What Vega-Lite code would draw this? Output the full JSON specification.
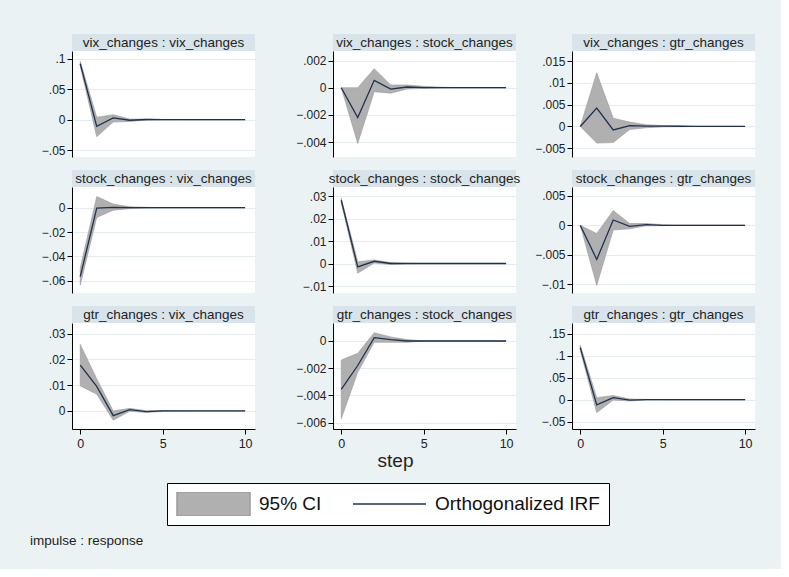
{
  "$schema": "https://vega.github.io/schema/vega-lite/v6.json",
  "background": "#eaf2f3",
  "padding": {"left": 8, "top": 34, "right": 26, "bottom": 22},
  "data": {"values": [
    {"p":"p1","step":0,"irf":0.092,"lo":0.088,"hi":0.096},
    {"p":"p1","step":1,"irf":-0.011,"lo":-0.028,"hi":0.004},
    {"p":"p1","step":2,"irf":0.003,"lo":-0.004,"hi":0.008},
    {"p":"p1","step":3,"irf":-0.001,"lo":-0.003,"hi":0.001},
    {"p":"p1","step":4,"irf":0.0002,"lo":-0.0008,"hi":0.0008},
    {"p":"p1","step":5,"irf":0,"lo":-0.0003,"hi":0.0003},
    {"p":"p1","step":6,"irf":0,"lo":-0.0001,"hi":0.0001},
    {"p":"p1","step":7,"irf":0,"lo":0,"hi":0},
    {"p":"p1","step":8,"irf":0,"lo":0,"hi":0},
    {"p":"p1","step":9,"irf":0,"lo":0,"hi":0},
    {"p":"p1","step":10,"irf":0,"lo":0,"hi":0},
    {"p":"p2","step":0,"irf":0,"lo":0,"hi":0},
    {"p":"p2","step":1,"irf":-0.0022,"lo":-0.0041,"hi":0.0},
    {"p":"p2","step":2,"irf":0.00054,"lo":-0.0003,"hi":0.0014},
    {"p":"p2","step":3,"irf":-0.0001,"lo":-0.0004,"hi":0.0002},
    {"p":"p2","step":4,"irf":0.00005,"lo":-0.0001,"hi":0.0002},
    {"p":"p2","step":5,"irf":0,"lo":-0.00005,"hi":0.0001},
    {"p":"p2","step":6,"irf":0,"lo":-0.00002,"hi":0.00004},
    {"p":"p2","step":7,"irf":0,"lo":0,"hi":0},
    {"p":"p2","step":8,"irf":0,"lo":0,"hi":0},
    {"p":"p2","step":9,"irf":0,"lo":0,"hi":0},
    {"p":"p2","step":10,"irf":0,"lo":0,"hi":0},
    {"p":"p3","step":0,"irf":0,"lo":0,"hi":0},
    {"p":"p3","step":1,"irf":0.0042,"lo":-0.0038,"hi":0.0123},
    {"p":"p3","step":2,"irf":-0.0008,"lo":-0.0037,"hi":0.0019},
    {"p":"p3","step":3,"irf":0.0002,"lo":-0.0007,"hi":0.001},
    {"p":"p3","step":4,"irf":0.0001,"lo":-0.0003,"hi":0.0004},
    {"p":"p3","step":5,"irf":0.0001,"lo":-0.0001,"hi":0.0002},
    {"p":"p3","step":6,"irf":0.00005,"lo":-0.00005,"hi":0.0001},
    {"p":"p3","step":7,"irf":0,"lo":0,"hi":0},
    {"p":"p3","step":8,"irf":0,"lo":0,"hi":0},
    {"p":"p3","step":9,"irf":0,"lo":0,"hi":0},
    {"p":"p3","step":10,"irf":0,"lo":0,"hi":0},
    {"p":"p4","step":0,"irf":-0.0565,"lo":-0.0635,"hi":-0.0495},
    {"p":"p4","step":1,"irf":-0.0003,"lo":-0.008,"hi":0.0092},
    {"p":"p4","step":2,"irf":0.0003,"lo":-0.002,"hi":0.003},
    {"p":"p4","step":3,"irf":0,"lo":-0.0008,"hi":0.0008},
    {"p":"p4","step":4,"irf":0,"lo":-0.0003,"hi":0.0003},
    {"p":"p4","step":5,"irf":0,"lo":-0.0001,"hi":0.0001},
    {"p":"p4","step":6,"irf":0,"lo":-0.00005,"hi":0.00005},
    {"p":"p4","step":7,"irf":0,"lo":0,"hi":0},
    {"p":"p4","step":8,"irf":0,"lo":0,"hi":0},
    {"p":"p4","step":9,"irf":0,"lo":0,"hi":0},
    {"p":"p4","step":10,"irf":0,"lo":0,"hi":0},
    {"p":"p5","step":0,"irf":0.0281,"lo":0.0272,"hi":0.0291},
    {"p":"p5","step":1,"irf":-0.0015,"lo":-0.0043,"hi":0.0008},
    {"p":"p5","step":2,"irf":0.001,"lo":0.0002,"hi":0.0016},
    {"p":"p5","step":3,"irf":0,"lo":-0.0004,"hi":0.0004},
    {"p":"p5","step":4,"irf":0,"lo":-0.0001,"hi":0.0001},
    {"p":"p5","step":5,"irf":0,"lo":0,"hi":0},
    {"p":"p5","step":6,"irf":0,"lo":0,"hi":0},
    {"p":"p5","step":7,"irf":0,"lo":0,"hi":0},
    {"p":"p5","step":8,"irf":0,"lo":0,"hi":0},
    {"p":"p5","step":9,"irf":0,"lo":0,"hi":0},
    {"p":"p5","step":10,"irf":0,"lo":0,"hi":0},
    {"p":"p6","step":0,"irf":0,"lo":0,"hi":0},
    {"p":"p6","step":1,"irf":-0.0058,"lo":-0.0102,"hi":-0.0014},
    {"p":"p6","step":2,"irf":0.0009,"lo":-0.0008,"hi":0.0025},
    {"p":"p6","step":3,"irf":-0.0002,"lo":-0.0006,"hi":0.0003},
    {"p":"p6","step":4,"irf":0.0001,"lo":-0.0001,"hi":0.0003},
    {"p":"p6","step":5,"irf":0,"lo":-0.00005,"hi":0.0001},
    {"p":"p6","step":6,"irf":0,"lo":0,"hi":0},
    {"p":"p6","step":7,"irf":0,"lo":0,"hi":0},
    {"p":"p6","step":8,"irf":0,"lo":0,"hi":0},
    {"p":"p6","step":9,"irf":0,"lo":0,"hi":0},
    {"p":"p6","step":10,"irf":0,"lo":0,"hi":0},
    {"p":"p7","step":0,"irf":0.0178,"lo":0.0097,"hi":0.0258},
    {"p":"p7","step":1,"irf":0.0095,"lo":0.0065,"hi":0.0125},
    {"p":"p7","step":2,"irf":-0.0018,"lo":-0.0036,"hi":0.0},
    {"p":"p7","step":3,"irf":0.0005,"lo":-0.0001,"hi":0.001},
    {"p":"p7","step":4,"irf":-0.0003,"lo":-0.0006,"hi":0.0001},
    {"p":"p7","step":5,"irf":0,"lo":-0.0002,"hi":0.0002},
    {"p":"p7","step":6,"irf":0,"lo":-0.0001,"hi":0.0001},
    {"p":"p7","step":7,"irf":0,"lo":0,"hi":0},
    {"p":"p7","step":8,"irf":0,"lo":0,"hi":0},
    {"p":"p7","step":9,"irf":0,"lo":0,"hi":0},
    {"p":"p7","step":10,"irf":0,"lo":0,"hi":0},
    {"p":"p8","step":0,"irf":-0.00355,"lo":-0.0057,"hi":-0.0014},
    {"p":"p8","step":1,"irf":-0.0018,"lo":-0.0023,"hi":-0.0009},
    {"p":"p8","step":2,"irf":0.00024,"lo":-0.0001,"hi":0.0006},
    {"p":"p8","step":3,"irf":0.0001,"lo":-0.0001,"hi":0.0003},
    {"p":"p8","step":4,"irf":0,"lo":-0.0001,"hi":0.0001},
    {"p":"p8","step":5,"irf":0,"lo":0,"hi":0},
    {"p":"p8","step":6,"irf":0,"lo":0,"hi":0},
    {"p":"p8","step":7,"irf":0,"lo":0,"hi":0},
    {"p":"p8","step":8,"irf":0,"lo":0,"hi":0},
    {"p":"p8","step":9,"irf":0,"lo":0,"hi":0},
    {"p":"p8","step":10,"irf":0,"lo":0,"hi":0},
    {"p":"p9","step":0,"irf":0.118,"lo":0.112,"hi":0.124},
    {"p":"p9","step":1,"irf":-0.012,"lo":-0.0295,"hi":0.0045},
    {"p":"p9","step":2,"irf":0.0045,"lo":-0.001,"hi":0.0095},
    {"p":"p9","step":3,"irf":-0.001,"lo":-0.003,"hi":0.0015},
    {"p":"p9","step":4,"irf":0,"lo":-0.0005,"hi":0.0005},
    {"p":"p9","step":5,"irf":0,"lo":0,"hi":0},
    {"p":"p9","step":6,"irf":0,"lo":0,"hi":0},
    {"p":"p9","step":7,"irf":0,"lo":0,"hi":0},
    {"p":"p9","step":8,"irf":0,"lo":0,"hi":0},
    {"p":"p9","step":9,"irf":0,"lo":0,"hi":0},
    {"p":"p9","step":10,"irf":0,"lo":0,"hi":0}
  ]},
  "title": {"text": "impulse : response", "orient": "bottom", "anchor": "start", "fontSize": 13.5, "fontWeight": "normal", "color": "#222", "font": "Liberation Sans", "dx": 22, "offset": 8},
  "columns": 3,
  "align": "each",
  "spacing": {"row": 13, "column": 10},
  "concat": [
    {"concat": [
      {"data": {"values": [{"t": "vix_changes : vix_changes"}]}, "width": 183, "height": 17, "view": {"fill": "#d8e4ea", "stroke": null}, "mark": {"type": "text", "fontSize": 13.5, "color": "#222"}, "encoding": {"text": {"field": "t"}}},
      {"width": 183, "height": 106, "view": {"fill": "white", "stroke": null},
       "transform": [{"filter": "datum.p == 'p1'"}],
       "encoding": {"x": {"field": "step", "type": "quantitative", "scale": {"domain": [-0.5, 10.6], "nice": false, "zero": false}, "axis": null}},
       "layer": [
        {"mark": {"type": "area", "stroke": "#9b9b9b", "strokeWidth": 0.6},
         "encoding": {"y": {"field": "lo", "type": "quantitative", "scale": {"domain": [-0.0615, 0.113], "nice": false, "zero": false}, "axis": {"title": null, "values": [-0.05, 0, 0.05, 0.1], "minExtent": 64, "maxExtent": 64}},
          "y2": {"field": "hi"},
          "color": {"datum": "95% CI", "type": "nominal", "scale": {"domain": ["95% CI", "Orthogonalized IRF"], "range": ["#b0b0b0", "#1f3152"]},
           "legend": {"title": null, "orient": "none", "legendX": 95, "legendY": 449, "direction": "horizontal", "strokeColor": "#000", "fillColor": "white", "padding": 9, "labelFontSize": 19, "labelLimit": 400, "labelColor": "#111", "labelFont": "Liberation Sans", "labelOffset": 8, "columnPadding": 30, "symbolSize": 5329, "clipHeight": 24, "symbolStrokeWidth": 1.5,
            "symbolType": {"expr": "datum.value === '95% CI' ? 'M-1,-0.33L1,-0.33L1,0.33L-1,0.33Z' : 'M-1,0L1,0'"},
            "symbolStrokeColor": {"expr": "datum.value === '95% CI' ? '#9b9b9b' : '#1f3152'"}}}}},
        {"mark": {"type": "line", "strokeWidth": 1.3, "color": "#1f3152"},
         "encoding": {"y": {"field": "irf", "type": "quantitative", "scale": {"domain": [-0.0615, 0.113], "nice": false, "zero": false}}}}
       ]}
    ], "columns": 1, "spacing": 0, "align": "each"},
    {"concat": [
      {"data": {"values": [{"t": "vix_changes : stock_changes"}]}, "width": 183, "height": 17, "view": {"fill": "#d8e4ea", "stroke": null}, "mark": {"type": "text", "fontSize": 13.5, "color": "#222"}, "encoding": {"text": {"field": "t"}}},
      {"width": 183, "height": 106, "view": {"fill": "white", "stroke": null},
       "transform": [{"filter": "datum.p == 'p2'"}],
       "encoding": {"x": {"field": "step", "type": "quantitative", "scale": {"domain": [-0.5, 10.6], "nice": false, "zero": false}, "axis": null}},
       "layer": [
        {"mark": {"type": "area", "color": "#b0b0b0", "stroke": "#9b9b9b", "strokeWidth": 0.6},
         "encoding": {"y": {"field": "lo", "type": "quantitative", "scale": {"domain": [-0.0051, 0.0027], "nice": false, "zero": false}, "axis": {"title": null, "values": [-0.004, -0.002, 0, 0.002], "minExtent": 68, "maxExtent": 68}}, "y2": {"field": "hi"}}},
        {"mark": {"type": "line", "strokeWidth": 1.3, "color": "#1f3152"},
         "encoding": {"y": {"field": "irf", "type": "quantitative", "scale": {"domain": [-0.0051, 0.0027], "nice": false, "zero": false}}}}
       ]}
    ], "columns": 1, "spacing": 0, "align": "each"},
    {"concat": [
      {"data": {"values": [{"t": "vix_changes : gtr_changes"}]}, "width": 183, "height": 17, "view": {"fill": "#d8e4ea", "stroke": null}, "mark": {"type": "text", "fontSize": 13.5, "color": "#222"}, "encoding": {"text": {"field": "t"}}},
      {"width": 183, "height": 106, "view": {"fill": "white", "stroke": null},
       "transform": [{"filter": "datum.p == 'p3'"}],
       "encoding": {"x": {"field": "step", "type": "quantitative", "scale": {"domain": [-0.5, 10.6], "nice": false, "zero": false}, "axis": null}},
       "layer": [
        {"mark": {"type": "area", "color": "#b0b0b0", "stroke": "#9b9b9b", "strokeWidth": 0.6},
         "encoding": {"y": {"field": "lo", "type": "quantitative", "scale": {"domain": [-0.007, 0.0173], "nice": false, "zero": false}, "axis": {"title": null, "values": [-0.005, 0, 0.005, 0.01, 0.015], "minExtent": 41, "maxExtent": 41}}, "y2": {"field": "hi"}}},
        {"mark": {"type": "line", "strokeWidth": 1.3, "color": "#1f3152"},
         "encoding": {"y": {"field": "irf", "type": "quantitative", "scale": {"domain": [-0.007, 0.0173], "nice": false, "zero": false}}}}
       ]}
    ], "columns": 1, "spacing": 0, "align": "each"},
    {"concat": [
      {"data": {"values": [{"t": "stock_changes : vix_changes"}]}, "width": 183, "height": 17, "view": {"fill": "#d8e4ea", "stroke": null}, "mark": {"type": "text", "fontSize": 13.5, "color": "#222"}, "encoding": {"text": {"field": "t"}}},
      {"width": 183, "height": 106, "view": {"fill": "white", "stroke": null},
       "transform": [{"filter": "datum.p == 'p4'"}],
       "encoding": {"x": {"field": "step", "type": "quantitative", "scale": {"domain": [-0.5, 10.6], "nice": false, "zero": false}, "axis": null}},
       "layer": [
        {"mark": {"type": "area", "color": "#b0b0b0", "stroke": "#9b9b9b", "strokeWidth": 0.6},
         "encoding": {"y": {"field": "lo", "type": "quantitative", "scale": {"domain": [-0.07, 0.017], "nice": false, "zero": false}, "axis": {"title": null, "values": [-0.06, -0.04, -0.02, 0], "minExtent": 64, "maxExtent": 64}}, "y2": {"field": "hi"}}},
        {"mark": {"type": "line", "strokeWidth": 1.3, "color": "#1f3152"},
         "encoding": {"y": {"field": "irf", "type": "quantitative", "scale": {"domain": [-0.07, 0.017], "nice": false, "zero": false}}}}
       ]}
    ], "columns": 1, "spacing": 0, "align": "each"},
    {"concat": [
      {"data": {"values": [{"t": "stock_changes : stock_changes"}]}, "width": 183, "height": 17, "view": {"fill": "#d8e4ea", "stroke": null}, "mark": {"type": "text", "fontSize": 13.5, "color": "#222"}, "encoding": {"text": {"field": "t"}}},
      {"width": 183, "height": 106, "view": {"fill": "white", "stroke": null},
       "transform": [{"filter": "datum.p == 'p5'"}],
       "encoding": {"x": {"field": "step", "type": "quantitative", "scale": {"domain": [-0.5, 10.6], "nice": false, "zero": false}, "axis": null}},
       "layer": [
        {"mark": {"type": "area", "color": "#b0b0b0", "stroke": "#9b9b9b", "strokeWidth": 0.6},
         "encoding": {"y": {"field": "lo", "type": "quantitative", "scale": {"domain": [-0.0131, 0.034], "nice": false, "zero": false}, "axis": {"title": null, "values": [-0.01, 0, 0.01, 0.02, 0.03], "minExtent": 68, "maxExtent": 68}}, "y2": {"field": "hi"}}},
        {"mark": {"type": "line", "strokeWidth": 1.3, "color": "#1f3152"},
         "encoding": {"y": {"field": "irf", "type": "quantitative", "scale": {"domain": [-0.0131, 0.034], "nice": false, "zero": false}}}}
       ]}
    ], "columns": 1, "spacing": 0, "align": "each"},
    {"concat": [
      {"data": {"values": [{"t": "stock_changes : gtr_changes"}]}, "width": 183, "height": 17, "view": {"fill": "#d8e4ea", "stroke": null}, "mark": {"type": "text", "fontSize": 13.5, "color": "#222"}, "encoding": {"text": {"field": "t"}}},
      {"width": 183, "height": 106, "view": {"fill": "white", "stroke": null},
       "transform": [{"filter": "datum.p == 'p6'"}],
       "encoding": {"x": {"field": "step", "type": "quantitative", "scale": {"domain": [-0.5, 10.6], "nice": false, "zero": false}, "axis": null}},
       "layer": [
        {"mark": {"type": "area", "color": "#b0b0b0", "stroke": "#9b9b9b", "strokeWidth": 0.6},
         "encoding": {"y": {"field": "lo", "type": "quantitative", "scale": {"domain": [-0.0115, 0.0065], "nice": false, "zero": false}, "axis": {"title": null, "values": [-0.01, -0.005, 0, 0.005], "minExtent": 41, "maxExtent": 41}}, "y2": {"field": "hi"}}},
        {"mark": {"type": "line", "strokeWidth": 1.3, "color": "#1f3152"},
         "encoding": {"y": {"field": "irf", "type": "quantitative", "scale": {"domain": [-0.0115, 0.0065], "nice": false, "zero": false}}}}
       ]}
    ], "columns": 1, "spacing": 0, "align": "each"},
    {"concat": [
      {"data": {"values": [{"t": "gtr_changes : vix_changes"}]}, "width": 183, "height": 17, "view": {"fill": "#d8e4ea", "stroke": null}, "mark": {"type": "text", "fontSize": 13.5, "color": "#222"}, "encoding": {"text": {"field": "t"}}},
      {"width": 183, "height": 106, "view": {"fill": "white", "stroke": null},
       "transform": [{"filter": "datum.p == 'p7'"}],
       "encoding": {"x": {"field": "step", "type": "quantitative", "scale": {"domain": [-0.5, 10.6], "nice": false, "zero": false}, "axis": {"title": null, "values": [0, 5, 10]}}},
       "layer": [
        {"mark": {"type": "area", "color": "#b0b0b0", "stroke": "#9b9b9b", "strokeWidth": 0.6},
         "encoding": {"y": {"field": "lo", "type": "quantitative", "scale": {"domain": [-0.007, 0.0341], "nice": false, "zero": false}, "axis": {"title": null, "values": [0, 0.01, 0.02, 0.03], "minExtent": 64, "maxExtent": 64}}, "y2": {"field": "hi"}}},
        {"mark": {"type": "line", "strokeWidth": 1.3, "color": "#1f3152"},
         "encoding": {"y": {"field": "irf", "type": "quantitative", "scale": {"domain": [-0.007, 0.0341], "nice": false, "zero": false}}}}
       ]}
    ], "columns": 1, "spacing": 0, "align": "each"},
    {"concat": [
      {"data": {"values": [{"t": "gtr_changes : stock_changes"}]}, "width": 183, "height": 17, "view": {"fill": "#d8e4ea", "stroke": null}, "mark": {"type": "text", "fontSize": 13.5, "color": "#222"}, "encoding": {"text": {"field": "t"}}},
      {"width": 183, "height": 106, "view": {"fill": "white", "stroke": null},
       "transform": [{"filter": "datum.p == 'p8'"}],
       "encoding": {"x": {"field": "step", "type": "quantitative", "scale": {"domain": [-0.5, 10.6], "nice": false, "zero": false}, "axis": {"title": "step", "values": [0, 5, 10], "titleX": 62, "titleFontSize": 19, "titleFontWeight": "normal", "titleColor": "#222", "titlePadding": 2}}},
       "layer": [
        {"mark": {"type": "area", "color": "#b0b0b0", "stroke": "#9b9b9b", "strokeWidth": 0.6},
         "encoding": {"y": {"field": "lo", "type": "quantitative", "scale": {"domain": [-0.00646, 0.00132], "nice": false, "zero": false}, "axis": {"title": null, "values": [-0.006, -0.004, -0.002, 0], "minExtent": 68, "maxExtent": 68}}, "y2": {"field": "hi"}}},
        {"mark": {"type": "line", "strokeWidth": 1.3, "color": "#1f3152"},
         "encoding": {"y": {"field": "irf", "type": "quantitative", "scale": {"domain": [-0.00646, 0.00132], "nice": false, "zero": false}}}}
       ]}
    ], "columns": 1, "spacing": 0, "align": "each"},
    {"concat": [
      {"data": {"values": [{"t": "gtr_changes : gtr_changes"}]}, "width": 183, "height": 17, "view": {"fill": "#d8e4ea", "stroke": null}, "mark": {"type": "text", "fontSize": 13.5, "color": "#222"}, "encoding": {"text": {"field": "t"}}},
      {"width": 183, "height": 106, "view": {"fill": "white", "stroke": null},
       "transform": [{"filter": "datum.p == 'p9'"}],
       "encoding": {"x": {"field": "step", "type": "quantitative", "scale": {"domain": [-0.5, 10.6], "nice": false, "zero": false}, "axis": {"title": null, "values": [0, 5, 10]}}},
       "layer": [
        {"mark": {"type": "area", "color": "#b0b0b0", "stroke": "#9b9b9b", "strokeWidth": 0.6},
         "encoding": {"y": {"field": "lo", "type": "quantitative", "scale": {"domain": [-0.0666, 0.174], "nice": false, "zero": false}, "axis": {"title": null, "values": [-0.05, 0, 0.05, 0.1, 0.15], "minExtent": 41, "maxExtent": 41}}, "y2": {"field": "hi"}}},
        {"mark": {"type": "line", "strokeWidth": 1.3, "color": "#1f3152"},
         "encoding": {"y": {"field": "irf", "type": "quantitative", "scale": {"domain": [-0.0666, 0.174], "nice": false, "zero": false}}}}
       ]}
    ], "columns": 1, "spacing": 0, "align": "each"}
  ],
  "config": {
    "font": "Liberation Sans",
    "view": {"stroke": null},
    "axisY": {"domainColor": "#000", "tickColor": "#000", "tickSize": 5, "tickCount": 20, "labelFontSize": 12, "labelColor": "#222", "labelPadding": 2, "labelFlush": false, "labelOverlap": false, "grid": true, "gridColor": "#e4ecef", "gridWidth": 1, "labelExpr": "replace(format(datum.value, '~g'), '0.', '.')"},
    "axisX": {"domainColor": "#000", "tickColor": "#000", "tickSize": 5, "tickCount": 20, "format": "d", "labelFontSize": 12.5, "labelColor": "#222", "labelPadding": 3, "labelFlush": false, "labelOverlap": false, "grid": false}
  }
}
